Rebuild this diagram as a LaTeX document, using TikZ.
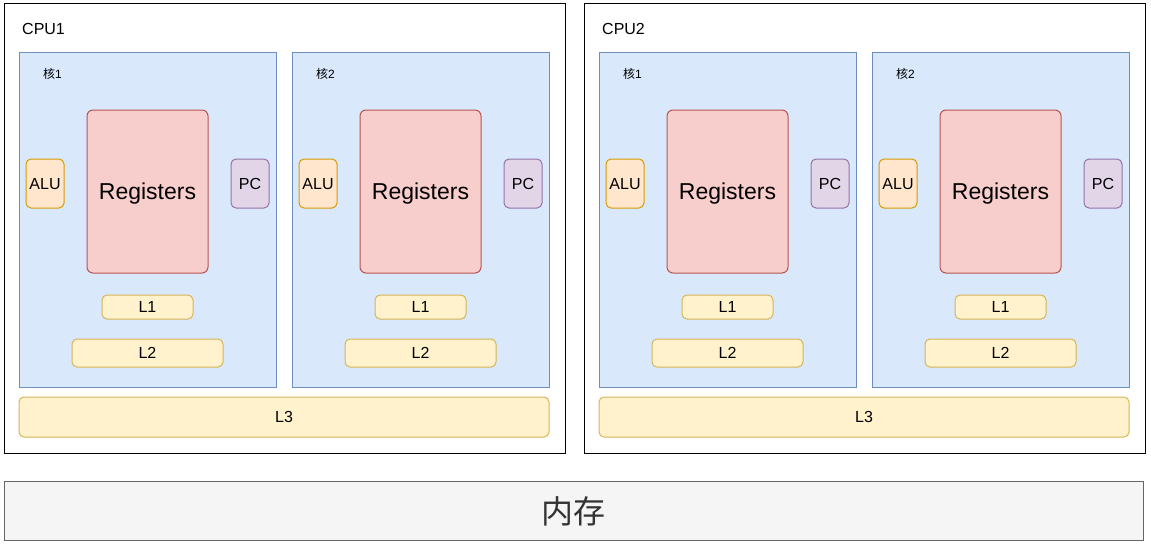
\documentclass[tikz,border=0pt]{standalone}
\usepackage{fontspec}
\setmainfont{Liberation Sans}
\newfontfamily\cjk{Noto Sans CJK SC}
\definecolor{corefill}{HTML}{DAE8FC}
\definecolor{coredraw}{HTML}{6C8EBF}
\definecolor{alufill}{HTML}{FFE6CC}
\definecolor{aludraw}{HTML}{D79B00}
\definecolor{regfill}{HTML}{F8CECC}
\definecolor{regdraw}{HTML}{B85450}
\definecolor{pcfill}{HTML}{E1D5E7}
\definecolor{pcdraw}{HTML}{9673A6}
\definecolor{cachefill}{HTML}{FFF2CC}
\definecolor{cachedraw}{HTML}{D6B656}
\definecolor{memfill}{HTML}{F5F5F5}
\definecolor{memdraw}{HTML}{666666}
\definecolor{memtext}{HTML}{333333}
\tikzset{
  box/.style={draw, line width=1pt, inner sep=0pt, text depth=0pt},
  cpubox/.style={box, draw=black, fill=white},
  corebox/.style={box, draw=coredraw, fill=corefill},
  alubox/.style={box, draw=aludraw, fill=alufill, rounded corners=5pt, font=\fontsize{16}{18}\selectfont},
  regbox/.style={box, draw=regdraw, fill=regfill, rounded corners=6pt, font=\fontsize{23}{26}\selectfont},
  pcbox/.style={box, draw=pcdraw, fill=pcfill, rounded corners=5pt, font=\fontsize{16}{18}\selectfont},
  cachebox/.style={box, draw=cachedraw, fill=cachefill, rounded corners=5pt, font=\fontsize{16}{18}\selectfont},
  membox/.style={box, draw=memdraw, fill=memfill, text=memtext, font=\cjk\fontsize{32}{36}\selectfont},
  cpulabel/.style={anchor=west, inner sep=0pt, font=\fontsize{16}{18}\selectfont},
  corelabel/.style={anchor=west, inner sep=0pt, font=\fontsize{12}{14}\selectfont}
}
\begin{document}
\begin{tikzpicture}[x=1pt, y=-1pt]
\useasboundingbox (0,0) rectangle (1151,551);
\foreach \c/\dx in {1/0, 2/580} {
  \begin{scope}[xshift=\dx pt]
    \node[cpubox, minimum width=561pt, minimum height=449pt] (cpu\c) at (284.5,228.5) {};
    \node[cpulabel] (cpulab\c) at (22,29) {CPU\c};
    \foreach \k/\kx in {1/0, 2/273} {
      \begin{scope}[xshift=\kx pt]
        \node[corebox, minimum width=257pt, minimum height=334pt] (core\c\k) at (147.5,220) {};
        \node[corelabel] (corelab\c\k) at (43,74) {{\cjk 核}\k};
        \node[alubox, minimum width=38pt, minimum height=49pt] (alu\c\k) at (45,183.5) {ALU};
        \node[regbox, minimum width=121pt, minimum height=163pt] (reg\c\k) at (147.5,191.5) {Registers};
        \node[pcbox, minimum width=38pt, minimum height=49pt] (pc\c\k) at (250,183.5) {PC};
        \node[cachebox, minimum width=91pt, minimum height=24pt] (lone\c\k) at (147.5,307) {L1};
        \node[cachebox, minimum width=151pt, minimum height=28pt] (ltwo\c\k) at (147.5,353) {L2};
      \end{scope}
    }
    \node[cachebox, minimum width=530pt, minimum height=40pt] (lthree\c) at (284,417) {L3};
  \end{scope}
}
\node[membox, minimum width=1139pt, minimum height=59pt] (mem) at (573.5,510.5) {内存};
\end{tikzpicture}
\end{document}
